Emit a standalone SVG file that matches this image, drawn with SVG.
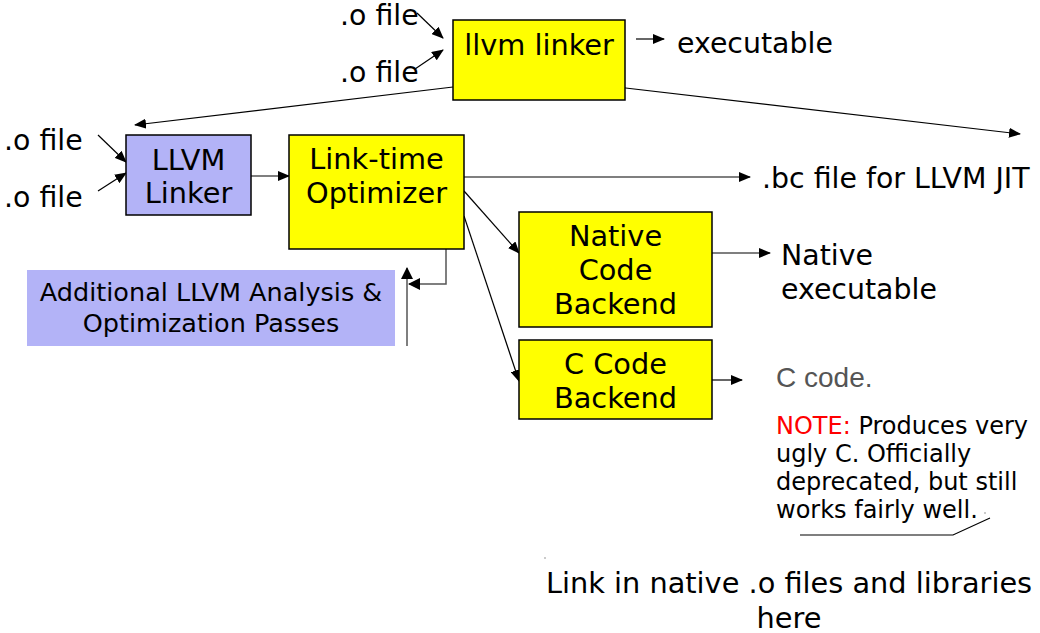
<svg xmlns="http://www.w3.org/2000/svg" width="1040" height="633" viewBox="0 0 1040 633">
<defs>
<marker id="ah" markerUnits="userSpaceOnUse" markerWidth="12" markerHeight="10" refX="11" refY="5" orient="auto">
<path d="M0,0 L12,5 L0,10 Z" fill="#000"/>
</marker>
<marker id="ahg" markerUnits="userSpaceOnUse" markerWidth="12" markerHeight="12" refX="11" refY="6" orient="auto">
<path d="M0,0 L12,6 L0,12 Z" fill="#000"/>
</marker>
<style>
text{font-family:"DejaVu Sans","Noto Sans",sans-serif;fill:#000}
.t28{font-size:28.8px}
.t27{font-size:28.4px}
.t24{font-size:24px}
.t25{font-size:25.5px}
.c{text-anchor:middle}
.yel{fill:#ffff00;stroke:#000;stroke-width:1.5}
.lav{fill:#b3b3f7}
.con{fill:none;stroke:#000;stroke-width:1.2}
.gry{fill:none;stroke:#555;stroke-width:1.5}
</style>
</defs>
<rect width="1040" height="633" fill="#fff"/>

<g id="connectors">
<line class="con" x1="417" y1="13" x2="443" y2="38" marker-end="url(#ah)"/>
<line class="con" x1="415" y1="69" x2="443" y2="50" marker-end="url(#ah)"/>
<line class="con" x1="636" y1="39" x2="664" y2="39" marker-end="url(#ah)"/>
<line class="con" x1="453" y1="87" x2="135" y2="125" marker-end="url(#ah)"/>
<line class="con" x1="617" y1="87" x2="1020" y2="134" marker-end="url(#ah)"/>
<line class="con" x1="98" y1="135" x2="126" y2="162" marker-end="url(#ah)"/>
<line class="con" x1="98" y1="191" x2="126" y2="173" marker-end="url(#ah)"/>
<line class="con" x1="251" y1="176" x2="289" y2="176" marker-end="url(#ah)"/>
<line class="con" x1="464" y1="177" x2="750" y2="177" marker-end="url(#ah)"/>
<line class="con" x1="464" y1="191" x2="519" y2="253" marker-end="url(#ah)"/>
<line class="con" x1="464" y1="216" x2="519" y2="381" marker-end="url(#ah)"/>
<line class="con" x1="712" y1="253" x2="770" y2="253" marker-end="url(#ah)"/>
<line class="con" x1="712" y1="380" x2="742" y2="380" marker-end="url(#ah)"/>
<line class="con" x1="396" y1="218" x2="446" y2="243"/>
<polyline class="gry" points="446,243 446,284 409,284" marker-end="url(#ahg)"/>
<line class="gry" x1="407" y1="346" x2="407" y2="268" marker-end="url(#ahg)"/>
<polyline class="con" points="800,535 953,535 990,518"/>
<circle cx="985" cy="513" r="0.8" fill="#888"/>
<circle cx="545" cy="558" r="0.8" fill="#888"/>
</g>

<g id="llvm-linker-top">
<rect class="yel" x="453" y="20" width="172" height="80"/>
<text class="t28 c" x="539" y="55">llvm linker</text>
</g>
<g id="ofile-top-1"><text class="t27" x="340" y="25">.o file</text></g>
<g id="ofile-top-2"><text class="t27" x="340" y="82">.o file</text></g>
<g id="executable"><text class="t27" x="677" y="53">executable</text></g>

<g id="ofile-left-1"><text class="t27" x="4" y="150">.o file</text></g>
<g id="ofile-left-2"><text class="t27" x="4" y="207">.o file</text></g>

<g id="llvm-linker">
<rect class="lav" x="126" y="135" width="125" height="80" stroke="#000" stroke-width="1.5"/>
<text class="t28 c" x="188.5" y="170">LLVM</text>
<text class="t28 c" x="188.5" y="203">Linker</text>
</g>

<g id="link-time-optimizer">
<rect class="yel" x="289" y="135" width="175" height="114"/>
<text class="t28 c" x="376.5" y="169">Link-time</text>
<text class="t28 c" x="376.5" y="203">Optimizer</text>
</g>

<g id="additional-passes">
<rect class="lav" x="27" y="270" width="368" height="76"/>
<text class="t25 c" x="211" y="301">Additional LLVM Analysis &amp;</text>
<text class="t25 c" x="211" y="332">Optimization Passes</text>
</g>

<g id="bc-file"><text class="t27" x="762" y="188">.bc file for LLVM JIT</text></g>

<g id="native-backend">
<rect class="yel" x="519" y="212" width="193" height="115"/>
<text class="t28 c" x="615.5" y="246">Native</text>
<text class="t28 c" x="615.5" y="280">Code</text>
<text class="t28 c" x="615.5" y="314">Backend</text>
</g>

<g id="native-executable">
<text class="t27" x="781" y="265">Native</text>
<text class="t27" x="781" y="299">executable</text>
</g>

<g id="c-backend">
<rect class="yel" x="519" y="340" width="193" height="79"/>
<text class="t28 c" x="615.5" y="374">C Code</text>
<text class="t28 c" x="615.5" y="408">Backend</text>
</g>

<g id="c-code">
<text x="776" y="387" style="font-family:'Liberation Sans',Arial,sans-serif;font-size:28px;fill:#555">C code.</text>
<text class="t24" x="776" y="434"><tspan style="fill:#f00">NOTE:</tspan> Produces very</text>
<text class="t24" x="776" y="462">ugly C. Officially</text>
<text class="t24" x="776" y="490">deprecated, but still</text>
<text class="t24" x="776" y="518">works fairly well.</text>
</g>

<g id="link-native">
<text class="t28 c" x="789" y="593">Link in native .o files and libraries</text>
<text class="t28 c" x="789" y="628">here</text>
</g>
</svg>
